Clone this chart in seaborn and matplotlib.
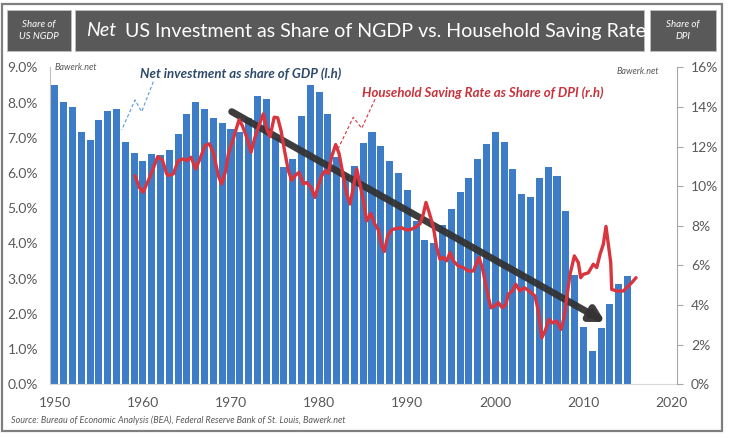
import matplotlib
matplotlib.use("Agg")
import matplotlib.pyplot as plt
import seaborn as sns
import pandas as pd
from matplotlib.patches import Rectangle
from matplotlib.lines import Line2D

# ---------------- data ----------------
years = list(range(1950, 2016))
net_investment = [8.51, 8.01, 7.87, 7.16, 6.95, 7.49, 7.77, 7.81, 6.88, 6.57,
                  6.35, 6.53, 6.51, 6.64, 7.11, 7.68, 8.02, 7.81, 7.57, 7.43,
                  7.24, 7.15, 7.55, 8.18, 8.09, 6.98, 6.17, 6.41, 7.61, 8.51,
                  8.29, 7.67, 6.45, 5.90, 6.21, 6.85, 7.15, 6.77, 6.34, 6.00,
                  5.53, 4.65, 4.11, 4.02, 4.51, 4.99, 5.45, 5.87, 6.39, 6.83,
                  7.16, 6.88, 6.11, 5.39, 5.32, 5.85, 6.16, 5.91, 4.92, 3.09,
                  1.63, 0.94, 1.61, 2.27, 2.84, 3.08]

saving_dates = [1959.10, 1959.59, 1960.05, 1960.35, 1960.61, 1961.07, 1961.68, 1962.20, 1962.70, 1962.88,
                1963.45, 1964.02, 1964.59, 1964.97, 1965.46, 1965.99, 1966.48, 1967.05, 1967.54, 1967.99,
                1968.56, 1968.94, 1969.40, 1969.69, 1970.26, 1970.91, 1971.28, 1971.78, 1972.27, 1972.72,
                1973.29, 1973.67, 1974.05, 1974.43, 1974.90, 1975.30, 1975.68, 1976.05, 1976.50, 1976.89,
                1977.26, 1977.72, 1978.21, 1978.59, 1979.08, 1979.53, 1979.91, 1980.30, 1980.67, 1981.04,
                1981.43, 1981.88, 1982.26, 1982.75, 1983.13, 1983.51, 1983.88, 1984.27, 1984.64, 1985.02,
                1985.40, 1985.89, 1986.27, 1986.72, 1987.11, 1987.40, 1987.79, 1988.24, 1988.81, 1989.38,
                1989.83, 1990.31, 1990.88, 1991.45, 1991.83, 1992.13, 1992.47, 1992.96, 1993.35, 1993.72,
                1994.10, 1994.48, 1994.86, 1995.23, 1995.80, 1996.37, 1996.94, 1997.50, 1997.89, 1998.15,
                1998.52, 1998.83, 1999.21, 1999.51, 1999.89, 2000.34, 2000.79, 2001.18, 2001.48, 2001.93,
                2002.32, 2002.80, 2003.29, 2003.82, 2004.50, 2004.88, 2005.27, 2005.64, 2006.10, 2006.47,
                2006.97, 2007.46, 2007.80, 2008.10, 2008.48, 2008.97, 2009.42, 2009.69, 2009.99, 2010.56,
                2011.12, 2011.51, 2011.89, 2012.26, 2012.56, 2012.83, 2013.10, 2013.21, 2013.78, 2014.53,
                2015.10, 2015.48, 2015.97]
saving_rate = [10.53, 9.94, 9.69, 10.03, 10.28, 10.78, 11.49, 11.33, 10.62, 10.53,
               10.62, 11.29, 11.38, 11.29, 11.46, 10.87, 11.38, 12.05, 12.14, 11.71,
               10.53, 10.11, 10.78, 11.60, 12.40, 13.35, 13.06, 12.47, 11.71, 12.47,
               13.20, 13.65, 12.90, 12.50, 13.48, 13.45, 12.80, 11.85, 10.80, 10.30,
               10.53, 10.70, 10.11, 10.19, 9.94, 9.43, 10.03, 10.53, 10.78, 10.65,
               11.50, 12.10, 11.65, 10.50, 9.60, 9.10, 9.94, 10.87, 10.10, 9.30,
               8.25, 8.62, 8.12, 7.80, 7.00, 6.70, 7.50, 7.80, 7.87, 7.90,
               7.80, 7.80, 7.91, 8.10, 8.60, 9.18, 8.70, 7.95, 6.90, 6.31,
               6.40, 6.23, 6.65, 6.23, 5.97, 5.89, 5.72, 5.72, 6.14, 6.40,
               5.89, 5.22, 4.37, 3.86, 3.95, 4.12, 3.86, 4.03, 4.54, 4.71,
               5.05, 4.71, 4.88, 4.71, 4.46, 3.70, 2.34, 2.68, 3.28, 3.10,
               3.19, 2.77, 3.36, 4.37, 5.55, 6.48, 6.14, 5.38, 5.55, 5.63,
               6.06, 5.89, 6.57, 7.07, 7.97, 7.07, 6.14, 4.79, 4.71, 4.71,
               4.96, 5.13, 5.38]

left_ticks = [0, 1, 2, 3, 4, 5, 6, 7, 8, 9]
right_ticks = [0, 2, 4, 6, 8, 10, 12, 14, 16]
x_ticks = [1950, 1960, 1970, 1980, 1990, 2000, 2010, 2020]

title_main = "US Investment as Share of NGDP vs. Household Saving Rate"
label_inv = "Net investment as share of GDP (l.h)"
label_sav = "Household Saving Rate as Share of DPI (r.h)"
source = "Source: Bureau of Economic Analysis (BEA), Federal Reserve Bank of St. Louis, Bawerk.net"

# ---------------- style ----------------
BLUE = "#3D7CC6"
RED = "#D9353F"
GREY = "#595959"
sns.set_theme(style="white")
plt.rcParams['font.family'] = ['Lato', 'DejaVu Sans']

W, H = 729, 438
fig = plt.figure(figsize=(W / 100, H / 100), dpi=100)
fig.patch.set_facecolor("white")

def fx(x):
    return x / W

def fy(y):
    return 1 - y / H

L, R, T, B = 50.4, 677.0, 67.3, 384.3
ax = fig.add_axes([fx(L), fy(B), fx(R) - fx(L), fy(T) - fy(B)])

df = pd.DataFrame({"year": years, "inv": net_investment})
sns.barplot(data=df, x="year", y="inv", native_scale=True, width=0.8,
            color=BLUE, saturation=1, errorbar=None, linewidth=0, ax=ax)
ax.set_xlim(1949.5, 2020.62)
ax.set_ylim(0, 9)
ax.set_xticks(x_ticks)
ax.set_xticklabels([str(t) for t in x_ticks])
ax.set_yticks(left_ticks)
ax.set_yticklabels([f"{t:.1f}%" for t in left_ticks])
ax.set_xlabel("")
ax.set_ylabel("")
ax.tick_params(axis="x", length=0, pad=9, labelsize=10, labelcolor=GREY)
ax.tick_params(axis="y", length=0, pad=9, labelsize=10, labelcolor=GREY)
for s in ["top", "right"]:
    ax.spines[s].set_visible(False)
ax.spines["left"].set_color("#BFBFBF")
ax.spines["left"].set_linewidth(0.8)
ax.spines["bottom"].set_color("#D9D9D9")
ax.spines["bottom"].set_linewidth(0.8)

ax2 = ax.twinx()
sns.lineplot(x=saving_dates, y=saving_rate, ax=ax2, color=RED, lw=2.4,
             estimator=None, sort=False)
ax2.set_ylim(0, 16)
ax2.set_xlim(1949.5, 2020.62)
ax2.set_yticks(right_ticks)
ax2.set_yticklabels([f"{t}%" for t in right_ticks])
ax2.set_ylabel("")
ax2.tick_params(axis="y", length=4, width=0.8, color="#A6A6A6", pad=6,
                labelsize=10, labelcolor=GREY)
for s in ["top", "left", "bottom"]:
    ax2.spines[s].set_visible(False)
ax2.spines["right"].set_color("#A6A6A6")
ax2.spines["right"].set_linewidth(0.8)

# trend arrow
ax.annotate("", xy=(2012.45, 1.77), xytext=(1970.08, 7.74),
            arrowprops=dict(arrowstyle="-|>,head_length=0.8,head_width=0.45",
                            color="#333333", lw=5, shrinkA=0, shrinkB=0,
                            mutation_scale=10, alpha=0.95),
            zorder=6)

# dashed leader lines (figure pixel coordinates)
def fig_line(pts, color):
    xs = [fx(p[0]) for p in pts]
    ys = [fy(p[1]) for p in pts]
    fig.add_artist(Line2D(xs, ys, color=color, lw=0.8, ls=(0, (3, 2)), zorder=7))

fig_line([(153.3, 81.7), (141.7, 111.7), (135, 100), (121.7, 130)], "#5B9BD5")
fig_line([(375, 99.3), (361.7, 128.3), (353.3, 117.3), (338.3, 148.3)], RED)

fig.text(fx(140), fy(74), label_inv, color="#2E4A6B", fontsize=9.5,
         style="italic", weight="bold", va="center", ha="left")
fig.text(fx(361.7), fy(92.7), label_sav, color="#C8323B", fontsize=9.5,
         style="italic", weight="bold", va="center", ha="left")
fig.text(fx(55), fy(68), "Bawerk.net", color=GREY, fontsize=6.5,
         style="italic", va="center", ha="left")
fig.text(fx(617), fy(71), "Bawerk.net", color=GREY, fontsize=6.5,
         style="italic", va="center", ha="left")
fig.text(fx(11), fy(420), source, color=GREY, fontsize=6.5,
         style="italic", va="center", ha="left")

# header boxes
BOX = "#595959"
for x0, x1 in [(7, 71), (75, 644), (650, 716)]:
    fig.add_artist(Rectangle((fx(x0), fy(51)), fx(x1) - fx(x0), fy(10) - fy(51),
                             transform=fig.transFigure, facecolor=BOX,
                             edgecolor="#BFBFBF", lw=0.6))
fig.text(fx(39), fy(30.5), "Share of\nUS NGDP", color="white", fontsize=7,
         style="italic", weight="normal", ha="center", va="center", linespacing=1.4)
fig.text(fx(683), fy(30.5), "Share of\nDPI", color="white", fontsize=7,
         style="italic", weight="normal", ha="center", va="center", linespacing=1.4)
fig.text(fx(86), fy(31), "Net", color="white", fontsize=14.1,
         style="italic", weight="normal", ha="left", va="center")
fig.text(fx(125), fy(31), title_main, color="white", fontsize=14.1,
         weight="normal", ha="left", va="center")

# outer frame
fig.add_artist(Rectangle((fx(2), fy(431)), fx(722) - fx(2), fy(4) - fy(431),
                         transform=fig.transFigure, facecolor="none",
                         edgecolor="#7F7F7F", lw=1.6))

fig.savefig("out.png", dpi=100)
